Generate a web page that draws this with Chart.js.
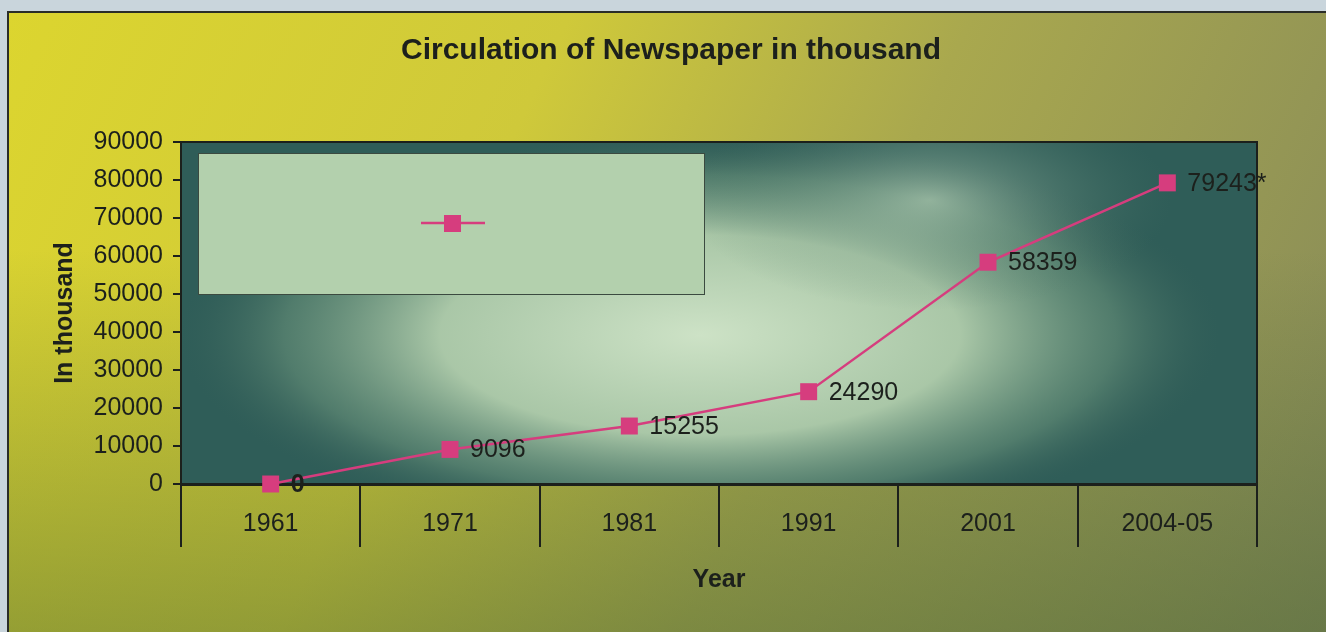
<!DOCTYPE html>
<html>
<head>
<meta charset="utf-8">
<script src="https://cdn.jsdelivr.net/npm/chart.js@4.4.1/dist/chart.umd.min.js"></script>
<style>
  html, body { margin: 0; padding: 0; background: #c9d5dc; }
  #wrap { width: 1326px; height: 632px; }
</style>
</head>
<body>
<div id="wrap"><canvas id="newsChart" width="1326" height="632"></canvas></div>
<script>
// Data
var years = ['1961', '1971', '1981', '1991', '2001', '2004-05'];
var circulation = [0, 9096, 15255, 24290, 58359, 79243];
var valueNotes = ['', '', '', '', '', '*'];   // 2004-05 is marked with an asterisk
var yMin = 0;
var yMax = 90000;
var yStep = 10000;

var FONT = '"Liberation Sans", Arial, sans-serif';
var INK = '#1c201c';
var PINK = '#d63d7e';

// Backgrounds: outer frame gradient and the glowing plot area
var backdropPlugin = {
    id: 'backdrop',
    beforeDraw: function (chart) {
        var ctx = chart.ctx;
        var a = chart.chartArea;
        ctx.save();
        ctx.fillStyle = '#c9d5dc';
        ctx.fillRect(0, 0, chart.width, chart.height);

        // frame
        var g = ctx.createLinearGradient(8, 12, 1326, 632);
        g.addColorStop(0, '#dcd52f');
        g.addColorStop(0.35, '#cfc93a');
        g.addColorStop(0.6, '#a9a84e');
        g.addColorStop(1, '#85895a');
        ctx.fillStyle = g;
        ctx.fillRect(8, 12, 1318, 620);
        var gb = ctx.createLinearGradient(0, 250, 0, 632);
        gb.addColorStop(0, 'rgba(70,100,50,0)');
        gb.addColorStop(1, 'rgba(70,100,50,0.45)');
        ctx.fillStyle = gb;
        ctx.fillRect(8, 12, 1318, 620);
        ctx.strokeStyle = '#2a2d28';
        ctx.lineWidth = 2;
        ctx.beginPath();
        ctx.moveTo(8, 632);
        ctx.lineTo(8, 12);
        ctx.lineTo(1326, 12);
        ctx.stroke();

        // plot area
        ctx.fillStyle = '#2f5d58';
        ctx.fillRect(a.left, a.top, a.right - a.left, a.bottom - a.top);
        ctx.beginPath();
        ctx.rect(a.left, a.top, a.right - a.left, a.bottom - a.top);
        ctx.clip();
        ctx.save();
        ctx.translate(700, 335);
        ctx.scale(2.6, 1);
        var rg = ctx.createRadialGradient(0, 0, 0, 0, 0, 200);
        rg.addColorStop(0, 'rgba(205,226,198,1)');
        rg.addColorStop(0.5, 'rgba(180,208,174,0.92)');
        rg.addColorStop(0.8, 'rgba(115,155,128,0.5)');
        rg.addColorStop(1, 'rgba(60,100,90,0)');
        ctx.fillStyle = rg;
        ctx.fillRect(-400, -300, 800, 600);
        ctx.restore();
        ctx.save();
        ctx.translate(930, 200);
        ctx.scale(2.2, 1);
        var rg2 = ctx.createRadialGradient(0, 0, 0, 0, 0, 110);
        rg2.addColorStop(0, 'rgba(190,215,188,0.6)');
        rg2.addColorStop(1, 'rgba(80,120,105,0)');
        ctx.fillStyle = rg2;
        ctx.fillRect(-300, -200, 600, 400);
        ctx.restore();
        ctx.restore();

        // plot border top and right
        ctx.save();
        ctx.strokeStyle = INK;
        ctx.lineWidth = 2;
        ctx.beginPath();
        ctx.moveTo(a.left, a.top);
        ctx.lineTo(a.right, a.top);
        ctx.lineTo(a.right, a.bottom);
        ctx.stroke();
        ctx.restore();
    }
};

// Legend box sitting inside the plot area (series has no name)
var legendBoxPlugin = {
    id: 'legendBox',
    beforeDatasetsDraw: function (chart) {
        var ctx = chart.ctx;
        var ds = chart.data.datasets[0];
        ctx.save();
        ctx.fillStyle = '#b3d0ad';
        ctx.fillRect(198, 153, 506, 141);
        ctx.strokeStyle = '#3b4a40';
        ctx.lineWidth = 1;
        ctx.strokeRect(198.5, 153.5, 506, 141);
        ctx.strokeStyle = ds.borderColor;
        ctx.lineWidth = 2.5;
        ctx.beginPath();
        ctx.moveTo(421, 223);
        ctx.lineTo(485, 223);
        ctx.stroke();
        ctx.fillStyle = ds.pointBackgroundColor;
        ctx.fillRect(444, 215, 17, 17);
        ctx.restore();
    }
};

// Value labels to the right of each point
var valueLabelPlugin = {
    id: 'valueLabels',
    afterDatasetsDraw: function (chart) {
        var ctx = chart.ctx;
        var meta = chart.getDatasetMeta(0);
        ctx.save();
        ctx.fillStyle = INK;
        ctx.textBaseline = 'middle';
        ctx.textAlign = 'left';
        meta.data.forEach(function (pt, i) {
            var v = circulation[i];
            ctx.font = (v === 0 ? 'bold ' : '') + '25px ' + FONT;
            ctx.fillText(v + valueNotes[i], pt.x + 20, pt.y + 1);
        });
        ctx.restore();
    }
};

var ctx = document.getElementById('newsChart').getContext('2d');
var newsChart = new Chart(ctx, {
    type: 'line',
    data: {
        labels: years,
        datasets: [{
            label: '',
            data: circulation,
            borderColor: PINK,
            borderWidth: 2.5,
            pointStyle: 'rect',
            pointRadius: 12,
            pointHoverRadius: 12,
            pointBackgroundColor: PINK,
            pointBorderWidth: 0,
            tension: 0,
            fill: false,
            clip: false
        }]
    },
    options: {
        responsive: false,
        animation: false,
        events: [],
        layout: { padding: { left: 16, right: 0, top: 0, bottom: 0 } },
        plugins: {
            legend: { display: false },
            tooltip: { enabled: false },
            title: {
                display: true,
                text: 'Circulation of Newspaper in thousand',
                color: INK,
                font: { family: FONT, size: 30, weight: 'bold' },
                padding: { top: 33, bottom: 73 }
            }
        },
        scales: {
            x: {
                offset: true,
                grid: { offset: true, drawOnChartArea: false, tickLength: 63, color: INK, lineWidth: 2 },
                border: { color: INK, width: 3 },
                ticks: { color: INK, font: { family: FONT, size: 25 }, padding: -38, maxRotation: 0 },
                title: {
                    display: true, text: 'Year', color: INK,
                    font: { family: FONT, size: 25, weight: 'bold' },
                    padding: { top: 0, bottom: 37 }
                },
                afterFit: function (s) { s.height = 148; }
            },
            y: {
                min: yMin,
                max: yMax,
                ticks: {
                    stepSize: yStep, color: INK, font: { family: FONT, size: 25 }, padding: 10,
                    callback: function (v) { return String(v); }
                },
                grid: { drawOnChartArea: false, tickLength: 8, color: INK, lineWidth: 2 },
                border: { color: INK, width: 2 },
                title: {
                    display: true, text: 'In thousand', color: INK,
                    font: { family: FONT, size: 25, weight: 'bold' },
                    padding: { top: 34, bottom: 0 }
                },
                afterFit: function (s) { s.width = 165; }
            },
            spacer: {
                position: 'right',
                display: true,
                grid: { display: false },
                border: { display: false },
                ticks: { display: false },
                afterFit: function (s) { s.width = 69; }
            }
        }
    },
    plugins: [backdropPlugin, legendBoxPlugin, valueLabelPlugin]
});
</script>
</body>
</html>
